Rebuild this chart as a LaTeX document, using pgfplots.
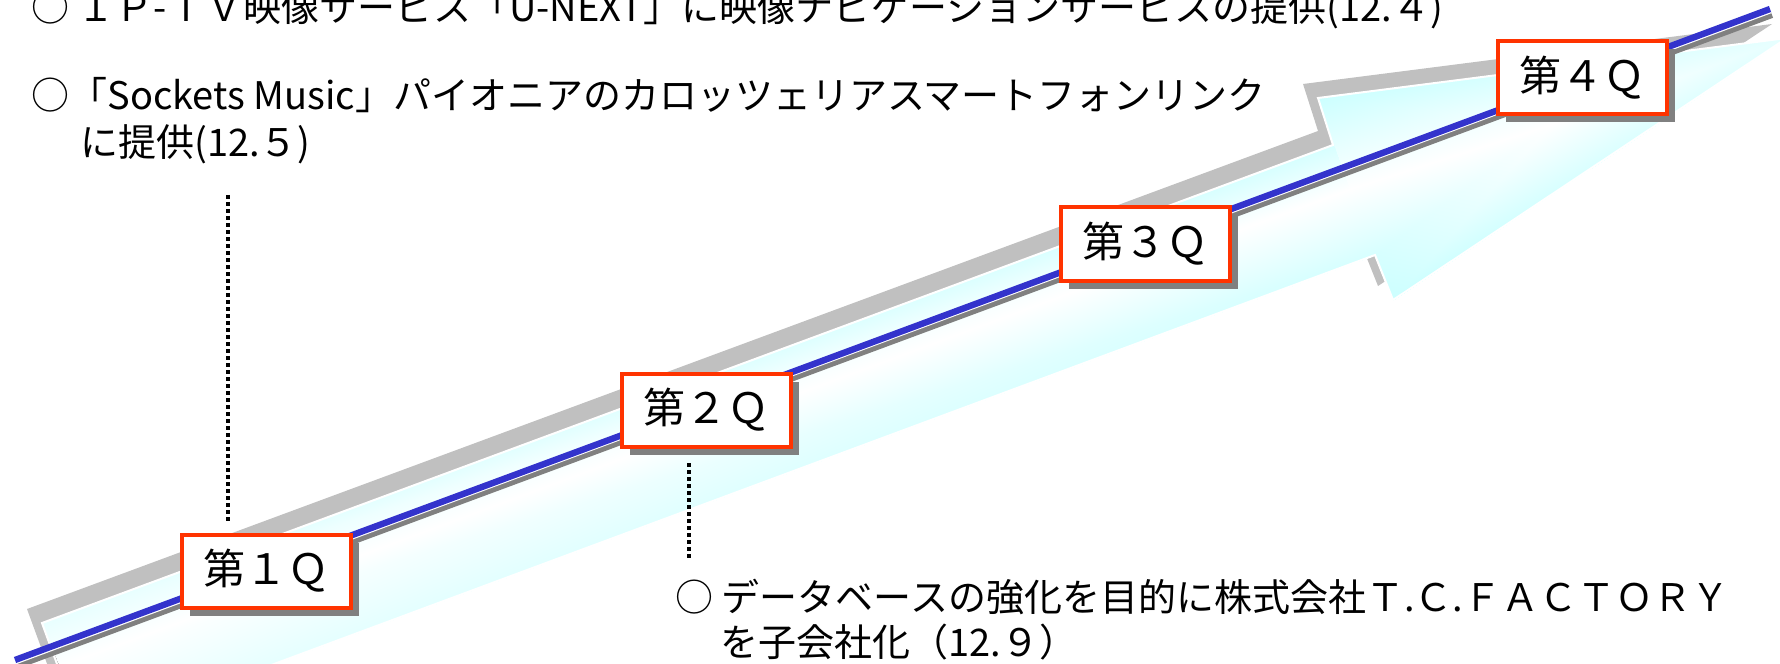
\documentclass[border=0pt]{standalone}
\usepackage{fontspec}
\setmainfont{Noto Sans CJK JP}
\usepackage{pgfplots}
\usepackage{pgfplotstable}
\pgfplotsset{compat=1.18}
\usetikzlibrary{shadows}

\definecolor{qred}{RGB}{255,51,0}
\definecolor{qblue}{RGB}{51,51,204}
\definecolor{lshadow}{RGB}{192,192,192}
\definecolor{dshadow}{RGB}{128,128,128}

% arrow body as triangles, c = amount of cyan (0 white, 1 full)
\pgfplotstableread{
x y c
42 623 0.45
1333 145 0.8
1350 189 0
42 623 0.45
1350 189 0
60 666 0
60 666 0
1350 189 0
1375 255 0.8
60 666 0
1375 255 0.8
83 735 0.45
1333 145 0.8
1318 98 1
1350 189 0
1318 98 1
1787 38 0.5
1550 125 0
1318 98 1
1550 125 0
1350 189 0
1787 38 0.5
1393 300 1
1550 125 0
1393 300 1
1375 255 0.8
1550 125 0
1375 255 0.8
1350 189 0
1550 125 0
}\arrowbody

\tikzset{
  qbox/.style={draw=qred, line width=2pt, fill=white, minimum width=84.5pt,
    minimum height=36.5pt, inner sep=0pt, font=\fontsize{21}{25}\selectfont,
    drop shadow={shadow xshift=4pt, shadow yshift=-4pt, fill=dshadow, opacity=1}},
  note/.style={anchor=base west, inner sep=0pt, font=\fontsize{19}{23}\selectfont},
}

\begin{document}
\begin{tikzpicture}
\begin{axis}[
  scale only axis, width=890pt, height=331.5pt,
  xmin=0, xmax=1780, ymin=0, ymax=663, y dir=reverse,
  hide axis, clip=false,
  colormap={arrowfill}{rgb255=(255,255,255) rgb255=(204,255,255)},
  point meta min=0, point meta max=1,
]
% shadow of the arrow
\addplot[fill=lshadow, draw=none] coordinates {
  (27,609) (1318,131) (1303,84) (1772,24) (1378,286) (1360,241) (68,721)} -- cycle;
% arrow body
\addplot[patch, patch type=triangle, shader=interp, point meta=explicit]
  table[x=x, y=y, meta=c] {\arrowbody};
\addplot[white, line width=1pt] coordinates {
  (42,623) (1333,145) (1318,98) (1787,38) (1393,300) (1375,255) (83,735)} -- cycle;

% trend line with its shadow
\addplot[dshadow, line width=3pt] coordinates {(17,666) (1772,15)};
\addplot[white, line width=0.8pt] coordinates {(16,663.5) (1771,12.5)};
\addplot[qblue, line width=3.2pt] coordinates {
  (15,660) (266,567) (706,404) (1145,241) (1582,79) (1770,9)};

% leaders
\addplot[black, line width=1.75pt, dash pattern=on 2pt off 1.5pt] coordinates {(228,195) (228,523)};
\addplot[black, line width=1.75pt, dash pattern=on 2pt off 1.5pt] coordinates {(689,463) (689,560)};

\node[qbox] at (axis cs:266,571) {第１Ｑ};
\node[qbox] at (axis cs:706,410) {第２Ｑ};
\node[qbox] at (axis cs:1145,244) {第３Ｑ};
\node[qbox] at (axis cs:1582,78) {第４Ｑ};

\node[note] at (axis cs:31,22) {○ ＩＰ-ＴＶ映像サービス「U-NEXT」に映像ナビゲーションサービスの提供(12.４)};
\node[note] at (axis cs:31,110) {○「Sockets Music」パイオニアのカロッツェリアスマートフォンリンク};
\node[note] at (axis cs:80,157) {に提供(12.５)};
\node[note] at (axis cs:675,611) {○ データベースの強化を目的に株式会社Ｔ.Ｃ.ＦＡＣＴＯＲＹ};
\node[note] at (axis cs:720,656) {を子会社化（12.９）};

\coordinate (bl) at (axis cs:0,663);
\coordinate (tr) at (axis cs:1780,0);
\end{axis}
\pgfresetboundingbox
\useasboundingbox (bl) rectangle (tr);
\end{tikzpicture}
\end{document}
